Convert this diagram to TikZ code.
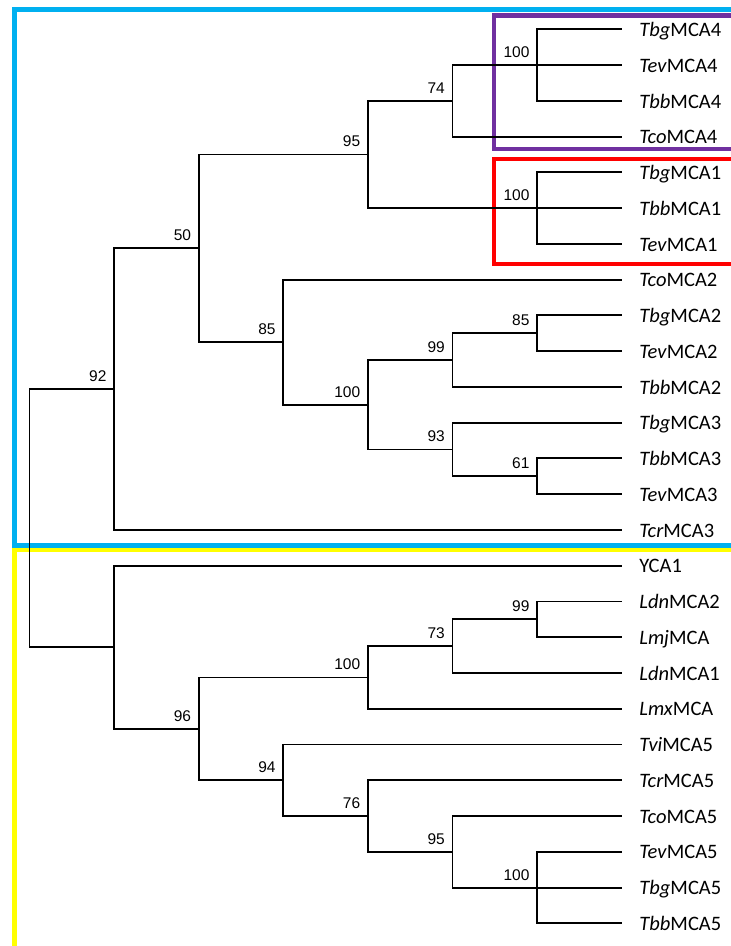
\documentclass[tikz,border=0pt]{standalone}
\usepackage{fontspec}
\newfontfamily\leaffont{Carlito}
\newfontfamily\bsfont{Liberation Sans}
\definecolor{cblue}{HTML}{00B0F0}
\definecolor{cyellow}{HTML}{FFFF00}
\definecolor{cpurple}{HTML}{7030A0}
\definecolor{cred}{HTML}{FF0000}
\begin{document}
\begin{tikzpicture}[x=1pt,y=-1pt,
  br/.style={draw=black,line width=1.9pt},
  frame/.style={line width=4.5pt},
  leaf/.style={anchor=base west,inner sep=0pt,xshift=17.5pt,yshift=-7.2pt,font=\leaffont\fontsize{20.5}{24}\selectfont},
  bs/.style={anchor=base east,inner sep=0pt,xshift=-7.5pt,yshift=7.5pt,font=\bsfont\fontsize{15.5}{18}\selectfont}]
\useasboundingbox (0,0) rectangle (731,946);
\clip (0,0) rectangle (731,946);
\fill[white] (0,0) rectangle (731,946);
% frames
\draw[frame,cblue] (740,9.3) -- (14.3,9.3) -- (14.3,545.5) -- (740,545.5);
\draw[frame,cyellow] (740,549.8) -- (14.3,549.8) -- (14.3,950);
\draw[frame,cpurple] (740,15.5) -- (494,15.5) -- (494,149) -- (740,149);
\draw[frame,cred] (740,159) -- (494,159) -- (494,264) -- (740,264);
% leaf tips
\foreach \i/\yy in {0/29.3,1/65.06,2/100.82,3/136.58,4/172.34,5/208.1,6/243.86,7/279.62,8/315.38,9/351.14,10/386.9,11/422.66,12/458.42,13/494.18,14/529.94,15/565.7,16/601.46,17/637.22,18/672.98,19/708.74,20/744.5,21/780.26,22/816.02,23/851.78,24/887.54,25/923.3}
  \coordinate (t\i) at (621.7,\yy);
% leaf labels
\node[leaf] (n0) at (t0) {\textit{Tbg}MCA4};
\node[leaf] (n1) at (t1) {\textit{Tev}MCA4};
\node[leaf] (n2) at (t2) {\textit{Tbb}MCA4};
\node[leaf] (n3) at (t3) {\textit{Tco}MCA4};
\node[leaf] (n4) at (t4) {\textit{Tbg}MCA1};
\node[leaf] (n5) at (t5) {\textit{Tbb}MCA1};
\node[leaf] (n6) at (t6) {\textit{Tev}MCA1};
\node[leaf] (n7) at (t7) {\textit{Tco}MCA2};
\node[leaf] (n8) at (t8) {\textit{Tbg}MCA2};
\node[leaf] (n9) at (t9) {\textit{Tev}MCA2};
\node[leaf] (n10) at (t10) {\textit{Tbb}MCA2};
\node[leaf] (n11) at (t11) {\textit{Tbg}MCA3};
\node[leaf] (n12) at (t12) {\textit{Tbb}MCA3};
\node[leaf] (n13) at (t13) {\textit{Tev}MCA3};
\node[leaf] (n14) at (t14) {\textit{Tcr}MCA3};
\node[leaf] (n15) at (t15) {YCA1};
\node[leaf] (n16) at (t16) {\textit{Ldn}MCA2};
\node[leaf] (n17) at (t17) {\textit{Lmj}MCA};
\node[leaf] (n18) at (t18) {\textit{Ldn}MCA1};
\node[leaf] (n19) at (t19) {\textit{Lmx}MCA};
\node[leaf] (n20) at (t20) {\textit{Tvi}MCA5};
\node[leaf] (n21) at (t21) {\textit{Tcr}MCA5};
\node[leaf] (n22) at (t22) {\textit{Tco}MCA5};
\node[leaf] (n23) at (t23) {\textit{Tev}MCA5};
\node[leaf] (n24) at (t24) {\textit{Tbg}MCA5};
\node[leaf] (n25) at (t25) {\textit{Tbb}MCA5};
% internal nodes
\coordinate (H) at (537.1,65.06);
\coordinate (F) at (452.5,100.82);
\coordinate (G) at (537.1,208.1);
\coordinate (D) at (367.9,154.46);
\coordinate (L) at (537.1,333.26);
\coordinate (J) at (452.5,360.08);
\coordinate (M) at (537.1,476.3);
\coordinate (K) at (452.5,449.48);
\coordinate (I) at (367.9,404.78);
\coordinate (E) at (283.3,342.2);
\coordinate (C) at (198.7,248.33);
\coordinate (A) at (114.1,389.14);
\coordinate (R) at (537.1,619.34);
\coordinate (Q) at (452.5,646.16);
\coordinate (O) at (367.9,677.45);
\coordinate (U) at (537.1,887.54);
\coordinate (T) at (452.5,851.78);
\coordinate (S) at (367.9,816.02);
\coordinate (P) at (283.3,780.26);
\coordinate (N) at (198.7,728.86);
\coordinate (B) at (114.1,647.28);
\coordinate (root) at (29.5,518.21);
% branches
\draw[br] (H) |- (t0) (H) |- (t1) (H) |- (t2);
\draw[br] (F) |- (H) (F) |- (t3);
\draw[br] (G) |- (t4) (G) |- (t5) (G) |- (t6);
\draw[br] (D) |- (F) (D) |- (G);
\draw[br] (L) |- (t8) (L) |- (t9);
\draw[br] (J) |- (L) (J) |- (t10);
\draw[br] (M) |- (t12) (M) |- (t13);
\draw[br] (K) |- (t11) (K) |- (M);
\draw[br] (I) |- (J) (I) |- (K);
\draw[br] (E) |- (t7) (E) |- (I);
\draw[br] (C) |- (D) (C) |- (E);
\draw[br] (A) |- (C) (A) |- (t14);
\draw[br] (R) |- (t16) (R) |- (t17);
\draw[br] (Q) |- (R) (Q) |- (t18);
\draw[br] (O) |- (Q) (O) |- (t19);
\draw[br] (U) |- (t23) (U) |- (t24) (U) |- (t25);
\draw[br] (T) |- (t22) (T) |- (U);
\draw[br] (S) |- (t21) (S) |- (T);
\draw[br] (P) |- (t20) (P) |- (S);
\draw[br] (N) |- (O) (N) |- (P);
\draw[br] (B) |- (t15) (B) |- (N);
\draw[br] (root) |- (A) (root) |- (B);
% bootstrap values
\node[bs] (bH) at (H) {100};
\node[bs] (bF) at (F) {74};
\node[bs] (bG) at (G) {100};
\node[bs] (bD) at (D) {95};
\node[bs] (bL) at (L) {85};
\node[bs] (bJ) at (J) {99};
\node[bs] (bM) at (M) {61};
\node[bs] (bK) at (K) {93};
\node[bs] (bI) at (I) {100};
\node[bs] (bE) at (E) {85};
\node[bs] (bC) at (C) {50};
\node[bs] (bA) at (A) {92};
\node[bs] (bR) at (R) {99};
\node[bs] (bQ) at (Q) {73};
\node[bs] (bO) at (O) {100};
\node[bs] (bU) at (U) {100};
\node[bs] (bT) at (T) {95};
\node[bs] (bS) at (S) {76};
\node[bs] (bP) at (P) {94};
\node[bs] (bN) at (N) {96};
\end{tikzpicture}
\end{document}
